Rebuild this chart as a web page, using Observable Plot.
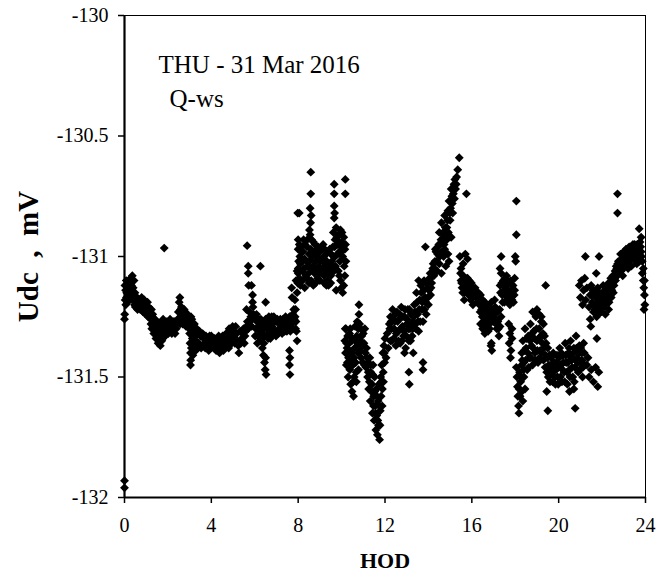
<!DOCTYPE html>
<html>
<head>
<meta charset="utf-8">
<script src="https://cdn.jsdelivr.net/npm/d3@7"></script>
<script src="https://cdn.jsdelivr.net/npm/@observablehq/plot@0.6"></script>
<style>
  html, body { margin: 0; padding: 0; background: #fff; }
  #chart { width: 657px; height: 575px; }
  #chart svg text { font-family: 'Liberation Serif', 'Times New Roman', serif !important; }
</style>
</head>
<body>
<div id="chart"></div>
<script>
// ---- Labels & ticks ----
const titleText = "THU - 31 Mar 2016";
const subText = "Q-ws";
const xLabel = "HOD";
const yLabel = "Udc  ,  mV";
const xTicks = [0, 4, 8, 12, 16, 20, 24];
const yTicks = [-132, -131.5, -131, -130.5, -130];

// ---- Readings [hour of day, Udc mV] ----
const seg00_04 = [
  [0,-131.93],[0,-131.96],[0,-131.26],[0.01,-131.24],
  [0.02,-131.12],[0.05,-131.14],[0.08,-131.10],[0.1,-131.15],[0.12,-131.12],[0.15,-131.17],[0.18,-131.13],[0.2,-131.11],[0.22,-131.16],
  [0.28,-131.09],[0.32,-131.12],[0.36,-131.08],[0.4,-131.13],[0.44,-131.10],[0.48,-131.15],
  [0.52,-131.18],[0.58,-131.17],[0.64,-131.19],[0.7,-131.18],[0.76,-131.20],[0.82,-131.19],[0.88,-131.21],[0.94,-131.20],[1.0,-131.22],[1.06,-131.19],[1.12,-131.21],[1.18,-131.23],[1.24,-131.22],
  [1.2,-131.26],[1.28,-131.25],[1.32,-131.29],[1.38,-131.27],[1.42,-131.31],[1.48,-131.29],[1.52,-131.33],[1.58,-131.30],[1.62,-131.34],[1.68,-131.31],[1.72,-131.35],[1.78,-131.33],
  [1.83,-130.965],
  [1.7,-131.27],[1.78,-131.26],[1.85,-131.28],[1.92,-131.30],[2.0,-131.28],[2.08,-131.31],[2.15,-131.29],[2.22,-131.30],[2.3,-131.27],[2.38,-131.30],[2.45,-131.26],
  [2.52,-131.19],[2.55,-131.17],[2.58,-131.22],[2.6,-131.25],
  [2.65,-131.24],[2.72,-131.26],[2.8,-131.23],[2.88,-131.27],[2.95,-131.25],[3.02,-131.28],[3.1,-131.26],[3.18,-131.29],
  [3.0,-131.32],[3.02,-131.36],[3.04,-131.40],[3.05,-131.43],[3.04,-131.45],[3.08,-131.38],[3.12,-131.34],[3.15,-131.41],[3.2,-131.37],[3.25,-131.33],[3.3,-131.35],
  [3.35,-131.32],[3.42,-131.36],[3.5,-131.33],[3.58,-131.37],[3.65,-131.34],[3.72,-131.38],[3.8,-131.35],[3.88,-131.39],[3.95,-131.36],
  [0.03,-131.18],[0.06,-131.2],[0.09,-131.17],[0.14,-131.19],[0.25,-131.14],[0.3,-131.17],[0.34,-131.15],[0.38,-131.18],[0.42,-131.16],[0.46,-131.2],[0.5,-131.21],[0.55,-131.2],[0.6,-131.22],[0.67,-131.21],[0.73,-131.22],[0.79,-131.17],[0.85,-131.23],[0.91,-131.18],[0.97,-131.24],[1.03,-131.21],[1.09,-131.25],[1.15,-131.24],
  [1.22,-131.28],[1.26,-131.3],[1.3,-131.24],[1.35,-131.32],[1.4,-131.26],[1.45,-131.34],[1.5,-131.27],[1.55,-131.36],[1.6,-131.28],[1.65,-131.37],[1.75,-131.29],[1.8,-131.31],[1.88,-131.33],[1.95,-131.27],[2.02,-131.32],[2.1,-131.26],[2.18,-131.32],[2.25,-131.27],[2.33,-131.32],[2.4,-131.28],[2.48,-131.23],[2.56,-131.28],[2.62,-131.21],[2.68,-131.28],[2.75,-131.22],[2.83,-131.29],[2.9,-131.24],[2.98,-131.3],[3.06,-131.25],[3.14,-131.31],[3.22,-131.28],[3.28,-131.39],[3.33,-131.3],[3.38,-131.38],[3.45,-131.31],[3.53,-131.38],[3.6,-131.32],[3.68,-131.36],[3.75,-131.33],[3.84,-131.37],[3.92,-131.33],[3.98,-131.38]
];
const seg04_08 = [
  [4.0,-131.33],[4.08,-131.37],[4.15,-131.34],[4.22,-131.39],[4.3,-131.35],[4.38,-131.40],[4.45,-131.36],[4.52,-131.33],[4.6,-131.37],[4.68,-131.32],[4.75,-131.36],[4.82,-131.30],[4.9,-131.34],[4.98,-131.29],[5.05,-131.33],[5.12,-131.29],[5.2,-131.35],[5.27,-131.40],[5.32,-131.31],[5.4,-131.34],[5.48,-131.30],[5.55,-131.33],[5.62,-131.29],
  [5.65,-130.955],[5.7,-131.04],[5.7,-131.07],[5.72,-131.12],[5.85,-131.12],[5.9,-131.16],[5.9,-131.19],[5.92,-131.21],[5.62,-131.22],[5.75,-131.23],[5.82,-131.25],
  [6.26,-131.04],[6.5,-131.19],
  [6.0,-131.26],[6.05,-131.30],[6.1,-131.27],[6.15,-131.33],[6.2,-131.29],[6.25,-131.35],[6.3,-131.31],[6.35,-131.27],[6.4,-131.32],[6.45,-131.28],[6.55,-131.33],[6.6,-131.29],[6.65,-131.25],[6.7,-131.31],[6.75,-131.27],
  [6.35,-131.38],[6.4,-131.41],[6.45,-131.44],[6.48,-131.47],[6.52,-131.49],[6.5,-131.42],
  [6.8,-131.29],[6.88,-131.25],[6.95,-131.31],[7.0,-131.27],[7.08,-131.32],[7.15,-131.28],[7.22,-131.30],[7.3,-131.26],[7.38,-131.31],[7.45,-131.27],[7.52,-131.29],[7.6,-131.25],[7.68,-131.28],[7.75,-131.24],[7.82,-131.26],
  [7.6,-131.39],[7.62,-131.42],[7.6,-131.45],[7.62,-131.49],
  [7.7,-131.13],[7.72,-131.17],
  [7.85,-131.18],[7.88,-131.22],[7.9,-131.27],[7.92,-131.31],[7.95,-131.35],[7.88,-131.30],
  [7.98,-130.82],[8.0,-130.93],[8.0,-130.97],[8.02,-131.02],[8.0,-131.07],[7.98,-131.11],[7.95,-131.15],[7.9,-131.10],[7.95,-131.06],
  [4.04,-131.35],[4.12,-131.38],[4.18,-131.36],[4.26,-131.37],[4.34,-131.33],[4.42,-131.38],[4.48,-131.34],[4.56,-131.39],[4.64,-131.35],[4.72,-131.34],[4.8,-131.38],[4.86,-131.32],[4.94,-131.36],[5.02,-131.31],[5.08,-131.36],[5.16,-131.32],[5.24,-131.37],[5.36,-131.36],[5.44,-131.32],[5.52,-131.36],[5.58,-131.31],[5.66,-131.27],[5.7,-131.3],[5.78,-131.27],[5.86,-131.29],[5.95,-131.24],
  [6.02,-131.33],[6.08,-131.24],[6.12,-131.36],[6.18,-131.26],[6.22,-131.32],[6.28,-131.26],[6.33,-131.34],[6.38,-131.3],[6.42,-131.36],[6.5,-131.26],[6.58,-131.3],[6.62,-131.34],[6.68,-131.28],[6.72,-131.34],[6.78,-131.25],[6.84,-131.32],[6.92,-131.27],[6.98,-131.33],[7.04,-131.26],[7.12,-131.3],[7.18,-131.26],[7.26,-131.32],[7.34,-131.28],[7.42,-131.25],[7.48,-131.31],[7.56,-131.27],[7.64,-131.31],[7.72,-131.27],[7.78,-131.3],[7.8,-131.22],[7.86,-131.25]
];
const seg08_12 = [
  [8.05,-130.95],[8.1,-131.03],[8.15,-130.98],[8.2,-131.06],[8.25,-130.93],[8.3,-131.01],[8.35,-131.08],[8.4,-130.96],[8.45,-131.04],[8.5,-130.99],[8.55,-130.91],[8.6,-131.05],
  [8.58,-130.65],[8.58,-130.74],[8.55,-130.80],[8.6,-130.83],[8.57,-130.86],[8.52,-130.89],[8.05,-130.82],
  [8.65,-131.00],[8.7,-130.94],[8.75,-131.07],[8.8,-131.02],[8.85,-130.97],[8.9,-131.09],[8.95,-131.04],[9.0,-130.98],[9.05,-131.06],[9.1,-131.01],[9.15,-130.95],[9.2,-131.08],[9.25,-131.03],[9.3,-130.99],[9.35,-131.10],[9.4,-131.05],[9.45,-130.97],[9.5,-131.08],[9.55,-131.02],[9.6,-130.96],[9.65,-131.06],[9.7,-131.00],
  [8.1,-131.12],[8.3,-131.13],[8.5,-131.11],[8.7,-131.12],[9.2,-131.11],[9.4,-131.12],
  [9.62,-130.90],[9.7,-130.93],[9.75,-130.88],[9.8,-130.95],[9.85,-130.91],[9.9,-130.98],[9.95,-130.89],[10.0,-130.94],[10.05,-131.00],[10.1,-130.92],[10.15,-130.97],[10.2,-131.02],
  [9.66,-130.70],[9.66,-130.74],[9.66,-130.79],[9.68,-130.82],[9.66,-130.84],[10.17,-130.68],[10.17,-130.74],
  [9.95,-131.10],[10.0,-131.13],[10.05,-131.15],[10.1,-131.12],[9.85,-131.06],[10.15,-131.08],[9.75,-131.14],
  [8.08,-131.0],[8.12,-130.96],[8.18,-131.02],[8.22,-130.98],[8.28,-131.05],[8.32,-130.95],[8.38,-131.02],[8.42,-130.93],[8.48,-131.07],[8.52,-131.02],[8.58,-130.97],[8.62,-130.93],[8.68,-131.04],[8.72,-130.99],[8.78,-130.95],[8.82,-131.06],[8.88,-131.0],[8.92,-130.96],[8.98,-131.07],[9.02,-131.02],[9.08,-130.97],[9.12,-131.05],[9.18,-131.0],[9.22,-130.97],[9.28,-131.06],[9.32,-131.02],[9.38,-130.98],[9.42,-131.07],[9.48,-131.03],[9.52,-130.99],[9.58,-131.05],[9.62,-131.0],[9.68,-130.96],[9.72,-131.04],[9.78,-130.92],[9.82,-130.99],[9.88,-130.94],[9.92,-131.02],[9.98,-130.96],[10.02,-130.9],[10.08,-130.97],[10.12,-131.04],[10.18,-130.95],
  [8.0,-131.05],[8.05,-131.09],[8.2,-131.1],[8.4,-131.09],[8.6,-131.1],[8.8,-131.11],[9.0,-131.1],[9.3,-131.12],[9.5,-131.11],[9.9,-131.08],
  [10.8,-131.20],
  [10.15,-131.35],[10.18,-131.40],[10.2,-131.30],[10.22,-131.45],[10.25,-131.38],[10.28,-131.33],[10.3,-131.50],[10.32,-131.42],[10.35,-131.36],[10.38,-131.47],[10.4,-131.30],[10.42,-131.53],[10.45,-131.40],[10.48,-131.56],[10.5,-131.34],[10.52,-131.45],[10.55,-131.58],[10.58,-131.50],[10.6,-131.38],[10.62,-131.29],[10.65,-131.44],[10.68,-131.52],[10.7,-131.33],[10.72,-131.27],[10.75,-131.40],[10.78,-131.47],[10.8,-131.24],[10.85,-131.35],[10.88,-131.30],[10.9,-131.42],[10.95,-131.37],[11.0,-131.32],[11.05,-131.45],[11.1,-131.40],
  [10.17,-131.3],[10.23,-131.36],[10.27,-131.44],[10.33,-131.39],[10.37,-131.32],[10.43,-131.44],[10.47,-131.35],[10.53,-131.52],[10.57,-131.42],[10.63,-131.35],[10.67,-131.48],[10.73,-131.37],[10.77,-131.3],[10.83,-131.28],[10.87,-131.39],[10.93,-131.33],[10.97,-131.44],[11.03,-131.36],[11.07,-131.3],
  [11.15,-131.38],[11.2,-131.50],[11.22,-131.44],[11.25,-131.55],[11.3,-131.42],[11.32,-131.60],[11.35,-131.48],[11.4,-131.53],[11.42,-131.65],[11.45,-131.45],[11.48,-131.58],[11.5,-131.68],[11.52,-131.50],[11.55,-131.62],[11.58,-131.72],[11.6,-131.55],[11.62,-131.66],[11.65,-131.74],[11.68,-131.60],[11.7,-131.70],[11.72,-131.53],[11.75,-131.76],[11.78,-131.64],[11.8,-131.50],[11.82,-131.58],[11.85,-131.45],[11.88,-131.55],[11.9,-131.40],[11.92,-131.48],[11.95,-131.37],[11.98,-131.44],
  [11.12,-131.46],[11.17,-131.42],[11.23,-131.48],[11.28,-131.52],[11.33,-131.45],[11.37,-131.56],[11.43,-131.49],[11.47,-131.62],[11.53,-131.56],[11.57,-131.65],[11.63,-131.58],[11.67,-131.68],[11.73,-131.62],[11.77,-131.7],[11.83,-131.52],[11.87,-131.62],[11.93,-131.52],[11.97,-131.4]
];
const seg12_16 = [
  [12.0,-131.34],[12.05,-131.42],[12.1,-131.32],[12.15,-131.38],[12.2,-131.28],[12.25,-131.35],
  [12.25,-131.25],[12.3,-131.30],[12.35,-131.22],[12.4,-131.34],[12.45,-131.27],[12.5,-131.37],[12.55,-131.23],[12.6,-131.31],[12.65,-131.26],[12.7,-131.36],[12.75,-131.21],[12.8,-131.29],[12.85,-131.33],[12.9,-131.25],[12.95,-131.38],[13.0,-131.28],[13.05,-131.22],[13.1,-131.35],[13.15,-131.30],[13.2,-131.24],[13.25,-131.33],[13.3,-131.27],
  [12.22,-131.3],[12.28,-131.27],[12.32,-131.35],[12.38,-131.26],[12.42,-131.3],[12.48,-131.24],[12.52,-131.32],[12.58,-131.27],[12.62,-131.35],[12.68,-131.24],[12.72,-131.3],[12.78,-131.35],[12.82,-131.25],[12.88,-131.31],[12.92,-131.22],[12.98,-131.33],[13.02,-131.26],[13.08,-131.3],[13.12,-131.22],[13.18,-131.35],[13.22,-131.28],[13.28,-131.3],
  [12.9,-131.40],[13.1,-131.48],[13.12,-131.53],[13.75,-131.44],[13.75,-131.47],[13.3,-131.40],
  [13.35,-131.20],[13.4,-131.28],[13.45,-131.15],[13.5,-131.24],[13.55,-131.31],[13.6,-131.18],[13.65,-131.12],[13.7,-131.22],[13.75,-131.27],[13.8,-131.10],[13.85,-131.17],[13.9,-131.24],[13.95,-131.13],[14.0,-131.20],[14.05,-131.09],[14.1,-131.16],[14.15,-131.11],[14.2,-131.05],
  [13.32,-131.25],[13.38,-131.23],[13.42,-131.3],[13.48,-131.19],[13.52,-131.27],[13.58,-131.22],[13.62,-131.27],[13.68,-131.15],[13.72,-131.19],[13.78,-131.14],[13.82,-131.22],[13.88,-131.19],[13.92,-131.11],[13.98,-131.17],[14.02,-131.14],[14.08,-131.07],[14.12,-131.13],[14.18,-131.08],
  [13.86,-130.96],[13.55,-131.10],
  [14.25,-131.08],[14.3,-131.02],[14.35,-130.98],[14.4,-131.06],[14.45,-130.96],[14.5,-131.03],[14.55,-130.99],[14.6,-131.07],[14.65,-130.94],[14.7,-131.00],[14.75,-130.97],[14.8,-131.04],[14.85,-130.93],[14.9,-130.99],[14.95,-131.02],
  [14.22,-131.03],[14.28,-131.05],[14.32,-130.97],[14.38,-131.02],[14.42,-130.99],[14.48,-130.95],[14.52,-131.0],[14.58,-130.93],[14.62,-130.98],[14.68,-130.9],[14.72,-130.95],[14.78,-130.88],[14.82,-130.92],[14.88,-130.85],[14.92,-130.9],[14.98,-130.82],[15.02,-130.8],[15.08,-130.75],[15.12,-130.82],[15.2,-130.76],[15.28,-130.7],
  [14.5,-130.90],[14.6,-130.86],[14.7,-130.91],[14.75,-130.83],[14.85,-130.88],[14.9,-130.81],[15.0,-130.85],[15.05,-130.92],[14.95,-130.77],[15.05,-130.72],
  [15.1,-130.78],[15.15,-130.74],[15.18,-130.70],[15.22,-130.68],[15.25,-130.72],[15.3,-130.67],[15.35,-130.64],[15.42,-130.59],[15.75,-130.74],
  [15.45,-131.00],[15.5,-131.05],[15.5,-131.10],[15.55,-131.13],[15.6,-131.08],[15.65,-131.15],[15.7,-131.11],[15.75,-131.14],[15.8,-131.09],[15.85,-131.16],[15.9,-131.12],[15.95,-131.18],[16.0,-131.13],[16.05,-131.20],[15.6,-131.03],[15.7,-130.99],[15.8,-131.01],[15.65,-131.18],
  [15.48,-131.07],[15.53,-131.11],[15.58,-131.15],[15.62,-131.1],[15.68,-131.13],[15.72,-131.09],[15.78,-131.12],[15.82,-131.14],[15.88,-131.1],[15.92,-131.15],[15.98,-131.11],[16.02,-131.16]
];
const seg16_20 = [
  [16.1,-131.14],[16.2,-131.17],[16.3,-131.15],[16.35,-131.20],[16.4,-131.16],[16.45,-131.22],[16.5,-131.18],[16.55,-131.24],[16.6,-131.19],[16.65,-131.23],[16.7,-131.20],[16.75,-131.25],[16.8,-131.21],[16.85,-131.23],[16.9,-131.19],[16.95,-131.24],[17.0,-131.22],[17.05,-131.18],
  [16.4,-131.28],[16.5,-131.30],[16.55,-131.27],[16.6,-131.32],[16.7,-131.29],[16.75,-131.31],[16.8,-131.28],[16.9,-131.36],[16.92,-131.39],[16.88,-131.37],
  [17.1,-131.26],[17.15,-131.30],[17.2,-131.27],[17.25,-131.33],[17.3,-131.29],[17.35,-131.25],
  [17.3,-131.12],[17.35,-131.07],[17.4,-131.16],[17.45,-131.10],[17.5,-131.19],[17.55,-131.13],[17.6,-131.08],[17.65,-131.17],[17.7,-131.11],[17.75,-131.20],[17.8,-131.14],[17.85,-131.18],[17.9,-131.12],[17.95,-131.16],[17.3,-131.05],[17.35,-131.00],
  [16.08,-131.16],[16.15,-131.13],[16.25,-131.19],[16.32,-131.17],[16.38,-131.23],[16.42,-131.19],[16.48,-131.25],[16.52,-131.21],[16.58,-131.29],[16.62,-131.26],[16.68,-131.22],[16.72,-131.27],[16.78,-131.23],[16.82,-131.3],[16.88,-131.26],[16.92,-131.22],[16.98,-131.27],[17.02,-131.24],[17.08,-131.21],[17.12,-131.28],[17.18,-131.23],[17.22,-131.3],[17.28,-131.22],[17.32,-131.15],[17.38,-131.11],[17.42,-131.19],[17.48,-131.14],[17.52,-131.09],[17.58,-131.16],[17.62,-131.12],[17.68,-131.19],[17.72,-131.15],[17.78,-131.1],[17.82,-131.17],[17.88,-131.14],[17.92,-131.19],
  [18.05,-130.77],[18.05,-130.91],[18.0,-131.00],[18.02,-131.02],[17.97,-131.09],[17.97,-131.14],
  [17.7,-131.28],[17.75,-131.32],[17.72,-131.36],[17.8,-131.39],[17.78,-131.42],[17.85,-131.34],[17.85,-131.30],
  [18.05,-131.46],[18.08,-131.50],[18.1,-131.54],[18.12,-131.58],[18.15,-131.62],[18.17,-131.65],[18.2,-131.48],[18.25,-131.52],[18.3,-131.56],[18.35,-131.60],[18.4,-131.50],[18.45,-131.55],[18.3,-131.45],
  [18.3,-131.40],[18.35,-131.35],[18.4,-131.44],[18.45,-131.30],[18.5,-131.38],[18.55,-131.47],[18.6,-131.33],[18.65,-131.42],[18.7,-131.28],[18.75,-131.37],[18.8,-131.45],[18.85,-131.31],[18.9,-131.40],[18.95,-131.25],[19.0,-131.35],[19.05,-131.44],[19.1,-131.30],[19.15,-131.39],[19.2,-131.27],[19.25,-131.36],[19.3,-131.43],[19.35,-131.33],[19.4,-131.41],[19.45,-131.48],[19.5,-131.38],[19.55,-131.45],[19.6,-131.52],[19.65,-131.42],[19.7,-131.49],[19.75,-131.40],[19.8,-131.47],[19.85,-131.53],[19.9,-131.44],[19.95,-131.50],[20.0,-131.46],
  [18.18,-131.55],[18.22,-131.58],[18.28,-131.5],[18.32,-131.43],[18.38,-131.47],[18.42,-131.39],[18.48,-131.43],[18.52,-131.34],[18.58,-131.4],[18.62,-131.46],[18.68,-131.35],[18.72,-131.42],[18.78,-131.32],[18.82,-131.38],[18.88,-131.34],[18.92,-131.43],[18.98,-131.3],[19.02,-131.39],[19.08,-131.34],[19.12,-131.42],[19.18,-131.33],[19.22,-131.4],[19.28,-131.32],[19.32,-131.38],[19.38,-131.46],[19.42,-131.36],[19.48,-131.42],[19.52,-131.5],[19.58,-131.41],[19.62,-131.47],[19.68,-131.45],[19.72,-131.52],[19.78,-131.44],[19.82,-131.5],[19.88,-131.47],[19.92,-131.41],[19.98,-131.53],
  [19.1,-131.24],[19.4,-131.12],[19.45,-131.56],[19.5,-131.64],
  [18.8,-131.23],[19.0,-131.22],[19.2,-131.25],[19.3,-131.28]
];
const seg20_24 = [
  [20.05,-131.38],[20.1,-131.45],[20.15,-131.52],[20.2,-131.41],[20.25,-131.48],[20.3,-131.36],[20.35,-131.44],[20.4,-131.53],[20.45,-131.40],[20.5,-131.47],[20.55,-131.35],[20.6,-131.43],[20.65,-131.50],[20.7,-131.38],[20.75,-131.46],[20.8,-131.33],[20.85,-131.42],[20.9,-131.48],[20.95,-131.37],[21.0,-131.44],[21.05,-131.40],[21.1,-131.50],[21.15,-131.36],[21.2,-131.45],
  [20.02,-131.42],[20.08,-131.5],[20.12,-131.4],[20.18,-131.47],[20.22,-131.44],[20.28,-131.52],[20.32,-131.41],[20.38,-131.48],[20.42,-131.44],[20.48,-131.38],[20.52,-131.5],[20.58,-131.42],[20.62,-131.46],[20.68,-131.4],[20.72,-131.52],[20.78,-131.43],[20.82,-131.38],[20.88,-131.44],[20.92,-131.4],[20.98,-131.47],[21.02,-131.38],[21.08,-131.43],[21.12,-131.46],[21.18,-131.4],
  [20.76,-131.63],[20.7,-131.55],[20.5,-131.56],
  [21.3,-131.45],[21.4,-131.50],[21.5,-131.47],[21.6,-131.52],[21.7,-131.46],[21.8,-131.54],[21.85,-131.48],[21.35,-131.42],
  [21.76,-131.34],
  [20.95,-131.12],[21.0,-131.17],[21.05,-131.10],[21.1,-131.20],[21.15,-131.14],[21.2,-131.09],[21.25,-131.18],[21.3,-131.13],[21.4,-131.21],[21.45,-131.16],[21.45,-131.26],[21.48,-131.29],
  [21.23,-131.00],[21.86,-131.00],[21.73,-131.07],
  [21.5,-131.12],[21.55,-131.19],[21.6,-131.23],[21.65,-131.15],[21.7,-131.20],[21.75,-131.25],[21.8,-131.13],[21.85,-131.18],[21.9,-131.22],[21.95,-131.16],[22.0,-131.20],[22.05,-131.12],[22.1,-131.17],[22.15,-131.24],[22.2,-131.14],[22.25,-131.19],[22.3,-131.11],[22.35,-131.16],[22.4,-131.09],[22.45,-131.14],[22.5,-131.08],[22.55,-131.12],[22.6,-131.06],[22.3,-131.22],
  [21.52,-131.16],[21.58,-131.14],[21.62,-131.2],[21.68,-131.22],[21.72,-131.17],[21.78,-131.21],[21.82,-131.24],[21.88,-131.15],[21.92,-131.19],[21.98,-131.23],[22.02,-131.16],[22.08,-131.21],[22.12,-131.14],[22.18,-131.19],[22.22,-131.12],[22.28,-131.15],[22.32,-131.19],[22.38,-131.13],[22.42,-131.17],[22.48,-131.11],[22.52,-131.15],[22.58,-131.09],[22.62,-131.1],[22.68,-131.05],
  [22.65,-131.04],[22.7,-131.08],[22.75,-131.02],[22.8,-131.06],[22.85,-130.99],[22.9,-131.04],[22.95,-131.08],[23.0,-130.98],[23.05,-131.03],[23.1,-130.97],[23.15,-131.01],[23.2,-131.05],[23.25,-130.96],[23.3,-131.00],[23.35,-131.04],[23.4,-130.97],[23.45,-131.01],[23.5,-130.95],[23.55,-130.99],[23.6,-131.03],[23.65,-130.96],[23.7,-131.00],[23.75,-130.94],[23.8,-130.98],[23.85,-131.02],
  [22.72,-131.03],[22.78,-131.07],[22.82,-131.02],[22.88,-131.06],[22.92,-131.01],[22.98,-131.05],[23.02,-131.0],[23.08,-131.04],[23.12,-130.99],[23.18,-131.03],[23.22,-130.98],[23.28,-131.02],[23.32,-130.97],[23.38,-131.0],[23.42,-130.95],[23.48,-130.99],[23.52,-130.97],[23.58,-131.01],[23.62,-130.95],[23.68,-130.98],[23.72,-131.02],[23.78,-130.96],[23.82,-131.0],
  [22.71,-130.74],[22.71,-130.82],[23.71,-130.885],[23.8,-130.92],
  [23.85,-131.07],[23.9,-131.10],[23.92,-131.13],[23.95,-131.16],[23.97,-131.20],[23.93,-131.22],[23.9,-131.05],[23.95,-131.10]
];

const readings = [...seg00_04, ...seg04_08, ...seg08_12, ...seg12_16, ...seg16_20, ...seg20_24]
  .map(([hod, udc]) => ({hod, udc}));

const serif = "'Liberation Serif', 'Times New Roman', serif";

const chart = Plot.plot({
  width: 657,
  height: 575,
  marginLeft: 124,
  marginRight: 12,
  marginTop: 15,
  marginBottom: 78,
  style: {fontFamily: serif, background: "#fff", color: "#000", overflow: "visible"},
  x: {domain: [xTicks[0], xTicks[xTicks.length - 1]], ticks: xTicks},
  y: {domain: [yTicks[0], yTicks[yTicks.length - 1]], ticks: yTicks},
  marks: [
    Plot.frame({stroke: "#000", strokeWidth: 1}),
    Plot.axisX({ticks: xTicks, tickSize: 6, tickPadding: 14, fontSize: 20, fontFamily: serif, label: null, tickFormat: d => String(d), strokeWidth: 1.5}),
    Plot.axisY({ticks: yTicks, tickSize: 6, tickPadding: 10, fontSize: 20, fontFamily: serif, label: null, tickFormat: d => String(d), strokeWidth: 1.5}),
    Plot.ruleX([xTicks[0]], {stroke: "#000", strokeWidth: 2.2}),
    Plot.ruleY([yTicks[0]], {stroke: "#000", strokeWidth: 2.2}),
    Plot.dot(readings, {x: "hod", y: "udc", symbol: "diamond2", r: 4.0, fill: "#000", stroke: null}),
    Plot.text([titleText], {frameAnchor: "top-left", dx: 34, dy: 57, textAnchor: "start", lineAnchor: "bottom", fontSize: 25, fontFamily: serif, fill: "#000"}),
    Plot.text([subText], {frameAnchor: "top-left", dx: 45, dy: 91, textAnchor: "start", lineAnchor: "bottom", fontSize: 25, fontFamily: serif, fill: "#000"}),
    Plot.text([xLabel], {frameAnchor: "bottom", dy: 70, textAnchor: "middle", lineAnchor: "bottom", fontSize: 22, fontWeight: "bold", fontFamily: serif, fill: "#000"}),
    Plot.text([yLabel], {frameAnchor: "left", dx: -96, rotate: -90, textAnchor: "middle", lineAnchor: "middle", fontSize: 29, fontWeight: "bold", fontFamily: serif, fill: "#000"})
  ]
});
document.getElementById("chart").appendChild(chart);
</script>
</body>
</html>
